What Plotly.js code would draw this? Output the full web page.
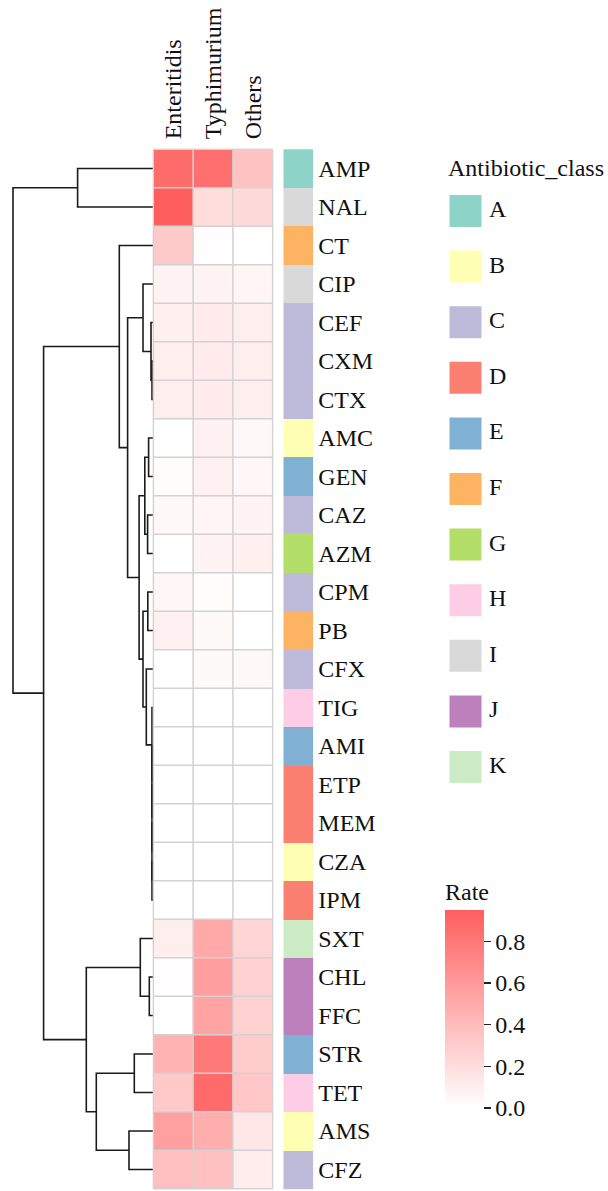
<!DOCTYPE html>
<html>
<head>
<meta charset="utf-8">
<script src="https://cdn.plot.ly/plotly-3.0.1.min.js"></script>
<style>html,body{margin:0;padding:0;background:#fff;}#chart{width:608px;height:1191px;}</style>
</head>
<body>
<div id="chart"></div>
<script>
// ---------------- data ----------------
const colNames = ['Enteritidis', 'Typhimurium', 'Others'];
const rowNames = ['AMP','NAL','CT','CIP','CEF','CXM','CTX','AMC','GEN','CAZ','AZM','CPM','PB','CFX',
                  'TIG','AMI','ETP','MEM','CZA','IPM','SXT','CHL','FFC','STR','TET','AMS','CFZ'];
const rateEnteritidis = [0.87,0.95,0.31,0.07,0.09,0.10,0.10,0.00,0.02,0.04,0.00,0.05,0.08,0.00,
                         0,0,0,0,0,0,0.10,0.01,0.00,0.45,0.32,0.56,0.38];
const rateTyphimurium = [0.85,0.20,0.01,0.07,0.12,0.12,0.12,0.08,0.08,0.06,0.07,0.02,0.03,0.03,
                         0,0,0,0,0,0,0.51,0.57,0.54,0.79,0.88,0.48,0.37];
const rateOthers      = [0.36,0.22,0.00,0.06,0.10,0.10,0.10,0.04,0.05,0.07,0.09,0.00,0.00,0.04,
                         0,0,0,0,0,0,0.25,0.27,0.27,0.30,0.33,0.14,0.11];
const rowClass = ['A','I','F','I','C','C','C','B','E','C','G','C','F','C',
                  'H','E','D','D','B','D','K','J','J','E','H','B','C'];
const classNames  = ['A','B','C','D','E','F','G','H','I','J','K'];
const classColors = ['#8DD3C7','#FFFFB3','#BEBADA','#FB8072','#80B1D3','#FDB462',
                     '#B3DE69','#FCCDE5','#D9D9D9','#BC80BD','#CCEBC5'];
// hierarchical clustering of rows: [left, right, height]; '#n' refers to merge n
const mergeLeft   = ['CXM','CEF','CIP','AMC','CAZ','#3','CPM','CZA','MEM','ETP','AMI','TIG','CFX','#6','#5','#2','CT',
                     'CHL','SXT','STR','AMS','#19','#18','#16','AMP','#24'];
const mergeRight  = ['CTX','#0','#1','GEN','AZM','#4','PB','IPM','#7','#8','#9','#10','#11','#12','#13','#14','#15',
                     'FFC','#17','TET','CFZ','#20','#21','#22','NAL','#23'];
const mergeHeight = [1.3,2.3,10.3,4.7,5.7,8.5,5.5,1.3,1.3,1.3,1.3,1.3,7.0,10.3,14.2,25.7,34.0,
                     4.0,13.0,19.0,24.3,57.0,67.0,109.7,75.7,140.3];

// ---------------- geometry ----------------
const W = 608, H = 1191;
const heatL = 153.3, heatR = 272.7, heatT = 149.3, rowH = 38.5;
const nR = rowNames.length, nC = colNames.length;
const heatB = heatT + nR * rowH;
const cellW = (heatR - heatL) / nC;
const annL = 283.3, annR = 313.3;
const serif = 'Liberation Serif, Times New Roman, Times, serif';
const FS = 24;

// ---------------- dendrogram ----------------
const nodes = [];
function resolve(ref) {
  if (ref[0] === '#') return nodes[parseInt(ref.slice(1))];
  return {y: rowNames.indexOf(ref), h: 0};
}
const dx = [], dy = [];
for (let i = 0; i < mergeHeight.length; i++) {
  const a = resolve(mergeLeft[i]), b = resolve(mergeRight[i]), h = mergeHeight[i];
  dx.push(a.h, h, h, b.h, null);
  dy.push(a.y, a.y, b.y, b.y, null);
  nodes.push({y: (a.y + b.y) / 2, h: h});
}

// ---------------- traces ----------------
const z = rowNames.map((_, i) => [rateEnteritidis[i], rateTyphimurium[i], rateOthers[i]]);
const rowIdx = rowNames.map((_, i) => i);
const colIdx = colNames.map((_, j) => j);

// grid lines for cell borders
const gx = [], gy = [];
for (let j = 0; j <= nC; j++) { gx.push(j - 0.5, j - 0.5, null); gy.push(-0.5, nR - 0.5, null); }
for (let i = 0; i <= nR; i++) { gx.push(-0.5, nC - 0.5, null); gy.push(i - 0.5, i - 0.5, null); }

const annScale = [];
classColors.forEach((c, k) => {
  annScale.push([k / classColors.length, c]);
  annScale.push([(k + 1) / classColors.length, c]);
});

const legY = classNames.map((_, i) => 211 + i * 55.6);

const traces = [
  {type: 'scatter', mode: 'lines', x: dx, y: dy, xaxis: 'x', yaxis: 'y',
   line: {color: '#1a1a1a', width: 1.6}, hoverinfo: 'skip', showlegend: false},
  {type: 'heatmap', z: z, x: colIdx, y: rowIdx, xaxis: 'x2', yaxis: 'y',
   colorscale: [[0, '#FFFFFF'], [1, '#FF5E5E']], zmin: 0,
   colorbar: {
     x: 445 / W, xanchor: 'left', xpad: 0,
     y: 1 - 1009 / H, yanchor: 'middle', ypad: 0,
     len: 198, lenmode: 'pixels', thickness: 39, thicknessmode: 'pixels',
     outlinewidth: 0, ticks: 'outside', ticklen: 7, tickwidth: 1.5, tickcolor: '#222',
     tickvals: [0, 0.2, 0.4, 0.6, 0.8], ticktext: ['0.0','0.2','0.4','0.6','0.8'],
     tickfont: {family: serif, size: FS, color: '#111'}
   }},
  {type: 'scatter', mode: 'lines', x: gx, y: gy, xaxis: 'x2', yaxis: 'y',
   line: {color: '#D2D2D2', width: 1.5}, hoverinfo: 'skip', showlegend: false},
  {type: 'heatmap', z: rowClass.map(c => [classNames.indexOf(c)]), x: [0], y: rowIdx,
   xaxis: 'x3', yaxis: 'y', colorscale: annScale, zmin: -0.5, zmax: classNames.length - 0.5,
   showscale: false, text: rowClass.map(c => [c]), hoverinfo: 'text'},
  {type: 'scatter', mode: 'markers', x: classNames.map(() => 465.5), y: legY, xaxis: 'x4', yaxis: 'y4',
   marker: {symbol: 'square', size: 32, color: classColors, line: {width: 0}},
   hoverinfo: 'skip', showlegend: false},
  {type: 'scatter', mode: 'text', x: classNames.map(() => 489), y: legY, text: classNames,
   textposition: 'middle right', textfont: {family: serif, size: FS, color: '#111'},
   xaxis: 'x4', yaxis: 'y4', hoverinfo: 'skip', showlegend: false},
  {type: 'scatter', mode: 'text', x: [448, 445], y: [170, 894], text: ['Antibiotic_class', 'Rate'],
   textposition: 'middle right', textfont: {family: serif, size: FS, color: '#111'},
   xaxis: 'x4', yaxis: 'y4', hoverinfo: 'skip', showlegend: false}
];

const hidden = {showgrid: false, zeroline: false, showline: false, ticks: '', showticklabels: false, automargin: false, fixedrange: true};

const layout = {
  width: W, height: H,
  margin: {l: 0, r: 0, t: 0, b: 0, autoexpand: false},
  paper_bgcolor: '#FFFFFF', plot_bgcolor: 'rgba(0,0,0,0)',
  showlegend: false,
  font: {family: serif, size: FS, color: '#111'},
  xaxis: Object.assign({}, hidden, {domain: [0, heatL / W], range: [heatL, 0], anchor: 'y'}),
  xaxis2: Object.assign({}, hidden, {
    domain: [(heatL - 1) / W, (heatR + 1) / W],
    range: [-0.5 - 1 / cellW, nC - 0.5 + 1 / cellW], anchor: 'y', side: 'top',
    showticklabels: true, tickvals: colIdx, ticktext: colNames, tickangle: -90,
    ticklabelstandoff: 8, tickfont: {family: serif, size: FS, color: '#111'}}),
  xaxis3: Object.assign({}, hidden, {domain: [annL / W, annR / W], range: [-0.5, 0.5], anchor: 'y'}),
  yaxis: Object.assign({}, hidden, {
    domain: [1 - (heatB + 1) / H, 1 - (heatT - 1) / H],
    range: [nR - 0.5 + 1 / rowH, -0.5 - 1 / rowH], anchor: 'x3', side: 'right',
    showticklabels: true, tickvals: rowIdx, ticktext: rowNames, ticklabelstandoff: 4,
    tickfont: {family: serif, size: FS, color: '#111'}}),
  xaxis4: Object.assign({}, hidden, {domain: [415 / W, 1], range: [415, W], anchor: 'y4'}),
  yaxis4: Object.assign({}, hidden, {domain: [0, 1], range: [H, 0], anchor: 'x4'})
};

Plotly.newPlot('chart', traces, layout, {staticPlot: true, displayModeBar: false});
</script>
</body>
</html>
